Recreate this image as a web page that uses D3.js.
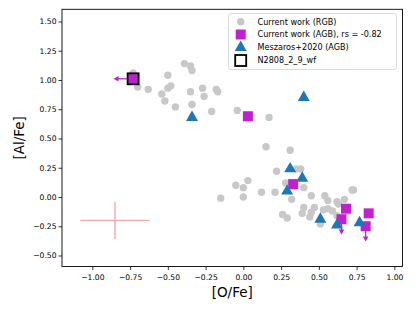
<!DOCTYPE html>
<html>
<head>
<meta charset="utf-8">
<script src="https://cdn.jsdelivr.net/npm/d3@7"></script>
<style>
  body { margin: 0; background: #fff; }
  svg { font-family: "DejaVu Sans", sans-serif; }
</style>
</head>
<body>
<svg id="chart" width="415" height="311"></svg>
<script>
// Current work (RGB)
const rgbO = [-0.73, -0.70, -0.63, -0.50, -0.54, -0.52, -0.50, -0.48, -0.45, -0.39, -0.35, -0.34, -0.35, -0.34,
  -0.27, -0.26, -0.18, -0.17, -0.21, -0.04, 0.17, 0.15, 0.31, 0.22, 0.35, 0.38, 0.28, 0.40, 0.03, -0.05, 0.00,
  -0.15, 0.00, 0.12, 0.21, 0.32, 0.45, 0.54, 0.56, 0.62, 0.63, 0.67, 0.72, 0.73, 0.40, 0.47, 0.39, 0.45, 0.44,
  0.26, 0.29, 0.53, 0.56, 0.59, 0.62, 0.51];
const rgbAl = [1.06, 0.94, 0.92, 1.04, 0.88, 0.82, 0.93, 0.95, 0.77, 1.14, 1.12, 1.08, 0.90, 0.79,
  0.93, 0.86, 0.92, 0.90, 0.73, 0.74, 0.68, 0.43, 0.40, 0.22, 0.24, 0.24, 0.12, 0.08, 0.14, 0.10, 0.08,
  -0.01, 0.00, 0.04, 0.04, -0.02, 0.01, 0.01, -0.03, -0.04, -0.06, -0.02, 0.06, 0.06, -0.09, -0.09, -0.14, -0.13, -0.17,
  -0.15, -0.18, -0.11, -0.10, -0.12, -0.16, -0.23];

// Current work (AGB)
const agbO = [-0.73, 0.03, 0.33, 0.68, 0.65, 0.83, 0.81];
const agbAl = [1.01, 0.69, 0.11, -0.10, -0.19, -0.14, -0.25];
const agbLimit = ['left', '', '', '', 'down', '', 'down'];

// Meszaros+2020 (AGB)
const mesO = [-0.34, 0.40, 0.31, 0.39, 0.29, 0.51, 0.62, 0.77];
const mesAl = [0.68, 0.85, 0.24, 0.16, 0.05, -0.19, -0.24, -0.22];

// N2808_2_9_wf
const starO = [-0.73];
const starAl = [1.01];

// typical error bar
const errO = -0.85, errAl = -0.20, errDO = 0.23, errDAl = 0.16;

const xTicks = [-1.0, -0.75, -0.5, -0.25, 0, 0.25, 0.5, 0.75, 1.0];
const yTicks = [-0.5, -0.25, 0, 0.25, 0.5, 0.75, 1.0, 1.25, 1.5];
const legendLabels = ['Current work (RGB)', 'Current work (AGB), rs = -0.82', 'Meszaros+2020 (AGB)', 'N2808_2_9_wf'];

const plotLeft = 62, plotRight = 402.5, plotTop = 9.3, plotBottom = 266.5;
const svg = d3.select('#chart');
const x = d3.scaleLinear().domain([-1.201, 1.054]).range([plotLeft, plotRight]);
const y = d3.scaleLinear().domain([-0.594, 1.604]).range([plotBottom, plotTop]);

const gray = '#c8c8c8', purple = '#c11fd2', blue = '#1f77b4';
const fmt = d => d3.format('.2f')(d).replace('-', '\u2212');

// axes
const xAxis = svg.append('g').attr('transform', `translate(0,${plotBottom})`)
  .call(d3.axisBottom(x).tickValues(xTicks).tickFormat(fmt).tickSize(3.5).tickSizeOuter(0));
const yAxis = svg.append('g').attr('transform', `translate(${plotLeft},0)`)
  .call(d3.axisLeft(y).tickValues(yTicks).tickFormat(fmt).tickSize(3.5).tickSizeOuter(0));
[xAxis, yAxis].forEach(a => {
  a.select('.domain').remove();
  a.selectAll('text').attr('font-size', 7.6).attr('font-family', '"DejaVu Sans", sans-serif').attr('fill', '#000');
  a.selectAll('line').attr('stroke', '#000').attr('stroke-width', 0.8);
});
xAxis.selectAll('text').attr('dy', '0.95em');
yAxis.selectAll('text').attr('x', -5.5);

svg.append('rect').attr('x', plotLeft).attr('y', plotTop)
  .attr('width', plotRight - plotLeft).attr('height', plotBottom - plotTop)
  .attr('fill', 'none').attr('stroke', '#000').attr('stroke-width', 0.9);

svg.append('text').attr('x', (plotLeft + plotRight) / 2).attr('y', 297).attr('text-anchor', 'middle')
  .attr('font-size', 13.5).text('[O/Fe]');
svg.append('text').attr('transform', `translate(24,${(plotTop + plotBottom) / 2}) rotate(-90)`)
  .attr('text-anchor', 'middle').attr('font-size', 13.5).text('[Al/Fe]');

const plot = svg.append('g');

// RGB points
plot.selectAll('circle.rgb').data(d3.range(rgbO.length)).enter().append('circle')
  .attr('cx', i => x(rgbO[i])).attr('cy', i => y(rgbAl[i])).attr('r', 3.7).attr('fill', gray);

// typical error cross
const errColor = '#f6a9a9';
plot.append('line').attr('x1', x(errO - errDO)).attr('x2', x(errO + errDO))
  .attr('y1', y(errAl)).attr('y2', y(errAl)).attr('stroke', errColor).attr('stroke-width', 1.4);
plot.append('line').attr('x1', x(errO)).attr('x2', x(errO))
  .attr('y1', y(errAl - errDAl)).attr('y2', y(errAl + errDAl)).attr('stroke', errColor).attr('stroke-width', 1.4);

// upper-limit arrows
const arrowLen = 0.13;
agbLimit.forEach((kind, i) => {
  if (!kind) return;
  const x0 = x(agbO[i]), y0 = y(agbAl[i]);
  let x1 = x0, y1 = y0, head;
  if (kind === 'left') {
    x1 = x(agbO[i] - arrowLen);
    head = `M${x1},${y1} L${x1 + 5},${y1 - 2.8} L${x1 + 5},${y1 + 2.8} Z`;
  } else {
    y1 = y(agbAl[i] - arrowLen);
    head = `M${x1},${y1} L${x1 - 2.8},${y1 - 5} L${x1 + 2.8},${y1 - 5} Z`;
  }
  plot.append('line').attr('x1', x0).attr('y1', y0).attr('x2', kind === 'left' ? x1 + 4 : x1)
    .attr('y2', kind === 'left' ? y1 : y1 - 4).attr('stroke', purple).attr('stroke-width', 1.3);
  plot.append('path').attr('d', head).attr('fill', purple);
});

// AGB squares
const sq = 10;
plot.selectAll('rect.agb').data(d3.range(agbO.length)).enter().append('rect')
  .attr('x', i => x(agbO[i]) - sq / 2).attr('y', i => y(agbAl[i]) - sq / 2)
  .attr('width', sq).attr('height', sq).attr('fill', purple);

// Meszaros triangles
const tri = d3.symbol().type(d3.symbolTriangle).size(62);
plot.selectAll('path.mes').data(d3.range(mesO.length)).enter().append('path')
  .attr('d', tri).attr('transform', i => `translate(${x(mesO[i])},${y(mesAl[i])})`).attr('fill', blue);

// highlighted star
plot.selectAll('rect.star').data(d3.range(starO.length)).enter().append('rect')
  .attr('x', i => x(starO[i]) - 5.5).attr('y', i => y(starAl[i]) - 5.5)
  .attr('width', 11).attr('height', 11).attr('fill', 'none').attr('stroke', '#000').attr('stroke-width', 1.8);

// legend
const lg = svg.append('g');
lg.append('rect').attr('x', 228.5).attr('y', 13.5).attr('width', 168).attr('height', 56).attr('rx', 2.5)
  .attr('fill', '#fff').attr('fill-opacity', 0.8).attr('stroke', '#d6d6d6').attr('stroke-width', 0.9);
const rowY = [21.7, 34.5, 47.5, 60.5];
const mx = 240.7;
lg.append('circle').attr('cx', mx).attr('cy', rowY[0]).attr('r', 3.7).attr('fill', gray);
lg.append('rect').attr('x', mx - 5).attr('y', rowY[1] - 5).attr('width', 10).attr('height', 10).attr('fill', purple);
lg.append('path').attr('d', tri).attr('transform', `translate(${mx},${rowY[2]})`).attr('fill', blue);
lg.append('rect').attr('x', mx - 5.5).attr('y', rowY[3] - 5.5).attr('width', 11).attr('height', 11)
  .attr('fill', 'none').attr('stroke', '#000').attr('stroke-width', 1.8);
lg.selectAll('text').data(legendLabels).enter().append('text')
  .attr('x', 257.5).attr('y', (d, i) => rowY[i]).attr('dy', '0.35em').attr('font-size', 8.1).text(d => d);
</script>
</body>
</html>
